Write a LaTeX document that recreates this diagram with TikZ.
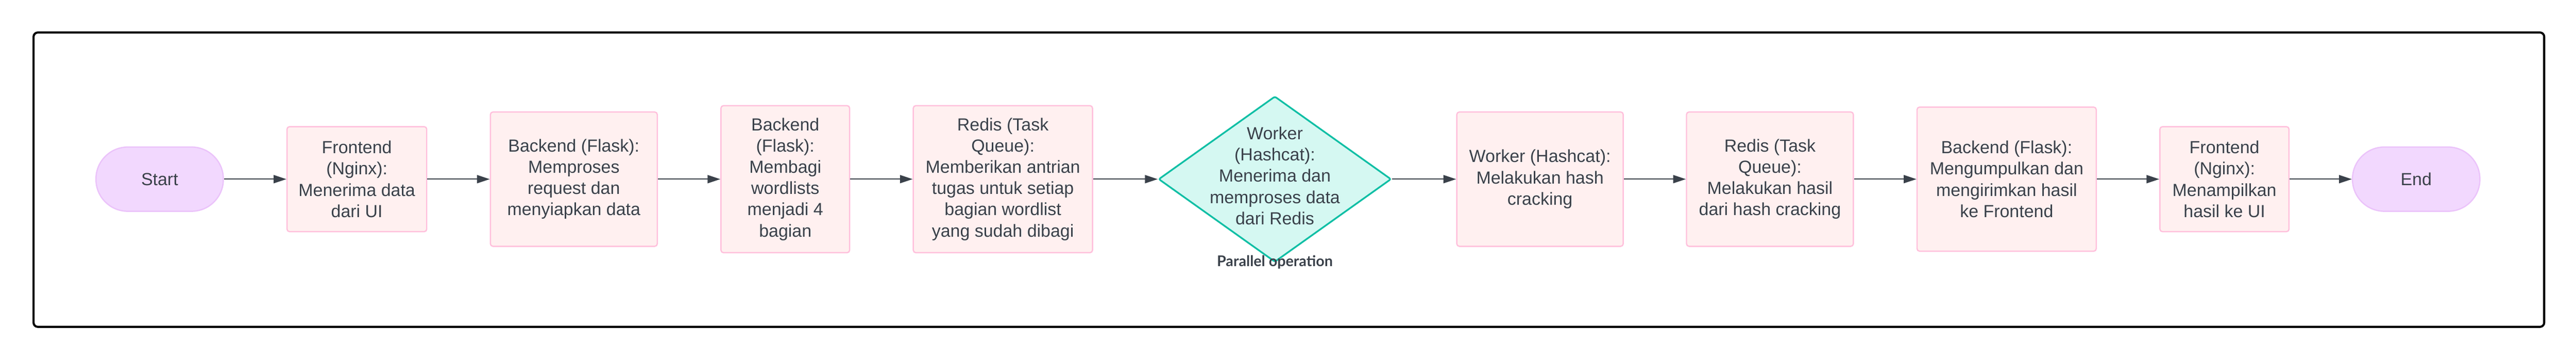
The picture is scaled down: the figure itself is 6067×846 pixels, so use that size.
\documentclass[tikz,border=0pt]{standalone}
\usepackage{fontspec}
\setmainfont{Liberation Sans}
\newfontfamily\oplabelfont{Lato}
\usepackage{tikz}
\usetikzlibrary{arrows.meta, shapes.geometric}
\definecolor{stepFill}{HTML}{FFF0F0}
\definecolor{stepEdge}{HTML}{FFC0DC}
\definecolor{termFill}{HTML}{F2D8FE}
\definecolor{termEdge}{HTML}{EBC3FA}
\definecolor{workFill}{HTML}{D5F8F2}
\definecolor{workEdge}{HTML}{10BFA5}
\definecolor{inkGray}{HTML}{3A414A}
\def\pxu{0.25pt}
\tikzset{
	boxfont/.style={font=\fontsize{10.3}{12.5}\selectfont, text=inkGray},
	procbox/.style={boxfont, draw=stepEdge, fill=stepFill, line width=0.75pt, rounded corners=1.5pt, align=center, inner sep=0pt},
	terminal/.style={boxfont, draw=termEdge, fill=termFill, line width=0.75pt, rounded corners=18.7pt, minimum width=300*\pxu, minimum height=151*\pxu, inner sep=0pt},
	parshape/.style={diamond, draw=workEdge, fill=workFill, line width=1pt, rounded corners=1pt, inner sep=0pt, minimum width=548*\pxu, minimum height=390*\pxu},
	oplabel/.style={font=\oplabelfont\bfseries\fontsize{8.7}{10}\selectfont, text=inkGray, inner sep=0pt},
	flow/.style={-{Triangle[length=7.5pt, width=4.8pt]}, line width=0.62pt, inkGray},
}

\begin{document}
\begin{tikzpicture}[x=\pxu, y=\pxu]
	\useasboundingbox (0,0) rectangle (6067,846);
	\draw[line width=1.25pt, rounded corners=2.5pt] (79,77) rectangle (5992,769.5);

	\node[terminal] (start) at (376,424.5) {Start};
	\node[procbox, minimum width=329*\pxu, minimum height=247*\pxu] (fenginx) at (840.5,424.5) {Frontend\\(Nginx):\\Menerima data\\dari UI};
	\node[procbox, minimum width=393*\pxu, minimum height=316*\pxu] (beprep) at (1351.5,424.5) {Backend (Flask):\\Memproses\\request dan\\menyiapkan data};
	\node[procbox, minimum width=303*\pxu, minimum height=346*\pxu] (besplit) at (1849.5,424.5) {Backend\\(Flask):\\Membagi\\wordlists\\menjadi 4\\bagian};
	\node[procbox, minimum width=422*\pxu, minimum height=346*\pxu] (rdqueue) at (2362,424.5) {Redis (Task\\Queue):\\Memberikan antrian\\tugas untuk setiap\\bagian wordlist\\yang sudah dibagi};
	\node[parshape] (par) at (3002.5,424.5) {};
	\node[boxfont, align=center, inner sep=0pt] (partext) at ([yshift=2pt]par.center) {Worker\\(Hashcat):\\Menerima dan\\memproses data\\dari Redis};
	\node[oplabel, anchor=base] (parnote) at ([yshift=-2pt]par.south) {Parallel operation};
	\node[procbox, minimum width=392*\pxu, minimum height=316*\pxu] (wkcrack) at (3627,424.5) {Worker (Hashcat):\\Melakukan hash\\cracking};
	\node[procbox, minimum width=393*\pxu, minimum height=316*\pxu] (rdresult) at (4168.5,424.5) {Redis (Task\\Queue):\\Melakukan hasil\\dari hash cracking};
	\node[procbox, minimum width=422*\pxu, minimum height=339*\pxu] (becollect) at (4726,424.5) {Backend (Flask):\\Mengumpulkan dan\\mengirimkan hasil\\ke Frontend};
	\node[procbox, minimum width=304*\pxu, minimum height=247*\pxu] (feshow) at (5239,424.5) {Frontend\\(Nginx):\\Menampilkan\\hasil ke UI};
	\node[terminal] (end) at (5690.5,424.5) {End};

	\draw[flow] (start) -- (fenginx);
	\draw[flow] (fenginx) -- (beprep);
	\draw[flow] (beprep) -- (besplit);
	\draw[flow] (besplit) -- (rdqueue);
	\draw[flow] (rdqueue) -- (par.west);
	\draw[flow] (par.east) -- (wkcrack);
	\draw[flow] (wkcrack) -- (rdresult);
	\draw[flow] (rdresult) -- (becollect);
	\draw[flow] (becollect) -- (feshow);
	\draw[flow] (feshow) -- (end);
\end{tikzpicture}
\end{document}
